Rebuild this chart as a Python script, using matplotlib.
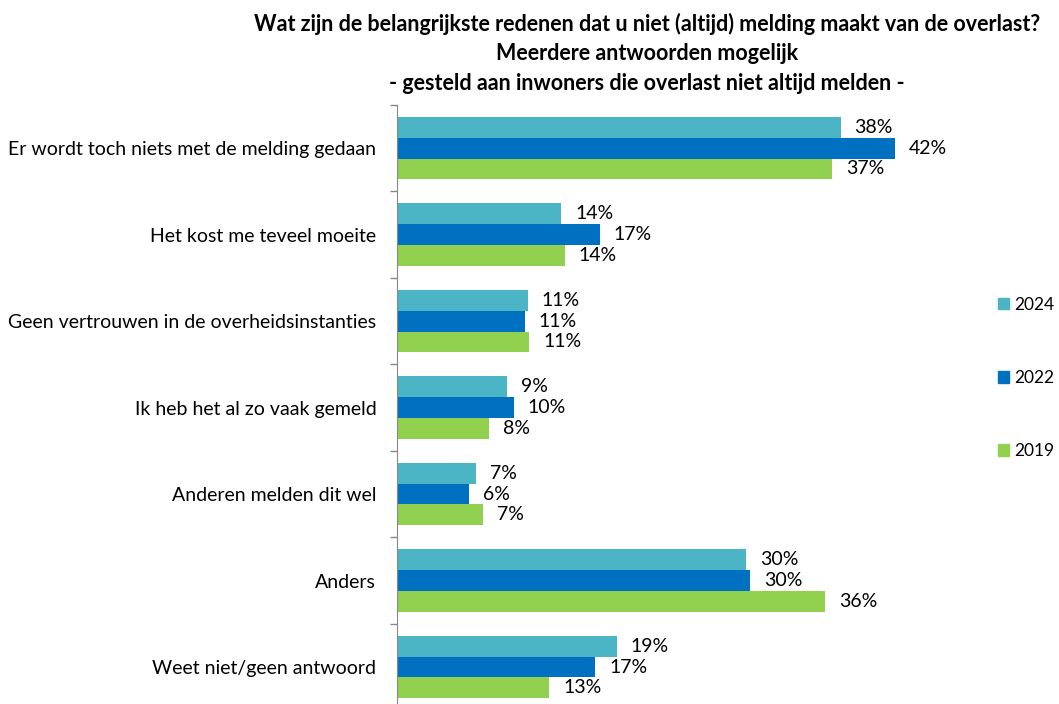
"""Staafdiagram: redenen om overlast niet (altijd) te melden."""
import matplotlib.pyplot as plt
import numpy as np
from matplotlib.patches import Patch

plt.rcParams["font.family"] = ["Lato", "DejaVu Sans"]

# Categorieën van boven naar beneden
CATEGORIES = [
    "Er wordt toch niets met de melding gedaan",
    "Het kost me teveel moeite",
    "Geen vertrouwen in de overheidsinstanties",
    "Ik heb het al zo vaak gemeld",
    "Anderen melden dit wel",
    "Anders",
    "Weet niet/geen antwoord",
]
YEARS = ["2024", "2022", "2019"]
COLORS = ["#4BB5C5", "#0070C0", "#92D050"]

# Percentages per jaar
VALUES_2024 = [37.6, 13.9, 11.1, 9.3, 6.7, 29.6, 18.6]
VALUES_2022 = [42.2, 17.2, 10.8, 9.9, 6.1, 29.9, 16.8]
VALUES_2019 = [36.9, 14.2, 11.2, 7.8, 7.3, 36.3, 12.9]

TITLE = (
    "Wat zijn de belangrijkste redenen dat u niet (altijd) melding maakt van de overlast?\n"
    "Meerdere antwoorden mogelijk\n"
    "- gesteld aan inwoners die overlast niet altijd melden -"
)

fig = plt.figure(figsize=(10.59, 7.04), dpi=100)
ax = fig.add_axes([0.375, -0.009, 0.557, 0.860])

n = len(CATEGORIES)
y = np.arange(n)
bar_h = 0.24
for i, (vals, color) in enumerate(zip([VALUES_2024, VALUES_2022, VALUES_2019], COLORS)):
    pos = y + (i - 1) * bar_h
    ax.barh(pos, vals, height=bar_h, color=color)
    for p, v in zip(pos, vals):
        ax.annotate(
            f"{round(v):d}%",
            (v, p),
            xytext=(10, 0),
            textcoords="offset points",
            va="center",
            ha="left",
            fontsize=14,
            color="#000000",
        )

ax.set_xlim(0, 50)
ax.set_ylim(n - 0.5, -0.5)
ax.set_yticks(y)
ax.set_yticklabels(CATEGORIES, fontsize=14)
ax.tick_params(axis="y", length=0, pad=15)
ax.set_yticks(np.arange(n + 1) - 0.5, minor=True)
ax.tick_params(axis="y", which="minor", length=5, color="#888888", width=1)
ax.set_xticks([])
for side in ["top", "right", "bottom"]:
    ax.spines[side].set_visible(False)
ax.spines["left"].set_color("#888888")

fig.text(0.611, 0.982, TITLE, ha="center", va="top", fontsize=15.5,
         fontweight="bold", linespacing=1.5)

handles = [Patch(color=c, label=yr) for c, yr in zip(COLORS, YEARS)]
fig.legend(handles=handles, loc="center left", bbox_to_anchor=(0.942, 0.463),
           frameon=False, fontsize=12.5, handlelength=0.65, handleheight=0.65,
           handletextpad=0.3, labelspacing=3.3, borderaxespad=0, borderpad=0)

fig.savefig("out.png", dpi=100)
